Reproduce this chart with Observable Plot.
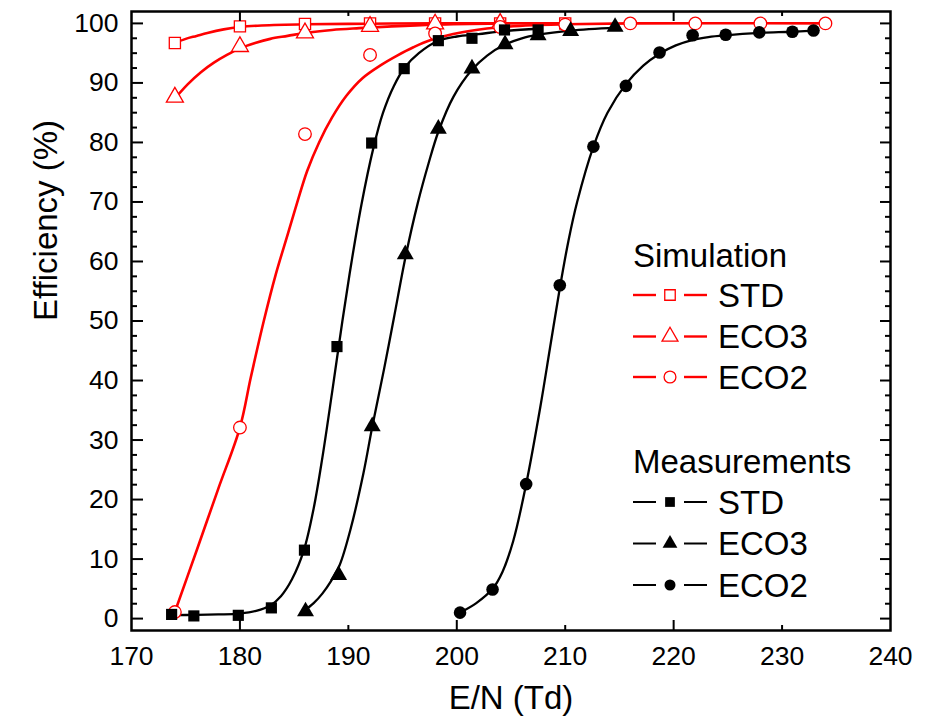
<!DOCTYPE html>
<html>
<head>
<meta charset="utf-8">
<script src="https://cdn.jsdelivr.net/npm/d3@7"></script>
<script src="https://cdn.jsdelivr.net/npm/@observablehq/plot@0.6"></script>
<style>
  body { margin: 0; background: #fff; }
  #chart svg { display: block; }
</style>
</head>
<body>
<div id="chart"></div>
<script>
// ---- Simulation (open red symbols) ----
const simStdX  = [174, 180, 186, 192, 198, 204, 210];
const simStdY  = [96.7, 99.5, 99.9, 100, 100, 100, 100];
const simEco3X = [174, 180, 186, 192, 198, 204];
const simEco3Y = [87.6, 96.1, 98.4, 99.5, 99.9, 100];
const simEco2X = [174, 180, 186, 192, 198, 204, 210, 216, 222, 228, 234];
const simEco2Y = [1.1, 32.1, 81.4, 94.7, 98.3, 99.4, 99.8, 100, 100, 100, 100];

// ---- Measurements (filled black symbols) ----
const measStdX  = [173.7, 175.75, 179.85, 182.9, 185.95, 188.95, 192.15, 195.15, 198.3, 201.4, 204.4, 207.5];
const measStdY  = [0.7, 0.45, 0.55, 1.8, 11.5, 45.7, 79.9, 92.4, 97.1, 97.5, 98.9, 98.9];
const measEco3X = [186.05, 189.1, 192.2, 195.25, 198.3, 201.4, 204.45, 207.5, 210.5, 214.6];
const measEco3Y = [1.2, 7.3, 32.3, 61.2, 82.3, 92.4, 96.5, 98.0, 98.7, 99.4];
const measEco2X = [200.3, 203.3, 206.4, 209.5, 212.6, 215.6, 218.7, 221.75, 224.8, 227.9, 230.95, 232.9];
const measEco2Y = [1.0, 4.9, 22.6, 56.0, 79.3, 89.5, 95.1, 98.0, 98.1, 98.5, 98.6, 98.8];

// ---- Fitted sigmoid curves (sampled) ----
const simStdFitX  = [174, 175, 176, 177, 178.5, 180, 182, 186, 192, 198, 210];
const simStdFitY  = [96.7, 97.4, 97.9, 98.4, 99.0, 99.4, 99.65, 99.85, 99.95, 100, 100];
const simEco3FitX = [174.1, 175.2, 176.4, 177.6, 178.8, 180, 181.4, 182.8, 184.4, 186, 188.5, 191, 194, 198, 204];
const simEco3FitY = [87.6, 89.8, 91.8, 93.4, 94.7, 95.8, 96.7, 97.4, 97.9, 98.4, 98.9, 99.2, 99.5, 99.8, 100];
const simEco2FitX = [174, 176, 178, 180, 181, 182.2, 183.3, 184.4, 185.3, 186.2, 187.3, 188.5, 189.8, 191.3, 193, 194.5, 196, 197.6, 200.5, 203.7, 207, 210, 216, 234];
const simEco2FitY = [1.1, 11.4, 21.8, 32.1, 40.5, 50, 57.8, 64.5, 70, 75.2, 80, 84.2, 87.8, 90.8, 93, 94.6, 96, 97.2, 98.5, 99.3, 99.7, 99.85, 100, 100];

const measStdFitX  = [173.7, 176, 178, 180, 181.5, 182.8, 183.8, 184.8, 185.9, 186.8, 187.6, 188.5, 189.45, 190.3, 191.2, 192.3, 193.2, 194.2, 195.2, 196.5, 198.2, 200, 202, 204.3, 207.5];
const measStdFitY  = [0.6, 0.62, 0.7, 0.85, 1.3, 2.2, 3.8, 6.6, 11.5, 18.5, 27, 38, 50, 60, 69.5, 79, 85, 89.5, 92.6, 95, 97, 97.8, 98.2, 98.7, 99.1];
const measEco3FitX = [185.9, 186.8, 187.6, 188.4, 189.2, 190.2, 191.4, 192.2, 193.3, 194.2, 195.3, 196.4, 197.4, 198.3, 199.7, 201.4, 202.8, 204.4, 206, 207.5, 210.5, 214.7];
const measEco3FitY = [1.3, 2.6, 4.2, 6.3, 9.0, 15.0, 24.5, 32.2, 42, 50.5, 61, 69.8, 76.5, 81.8, 87.7, 92.2, 94.6, 96.4, 97.5, 98.1, 98.8, 99.3];
const measEco2FitX = [200.3, 201.8, 203.3, 204.2, 205.2, 206.4, 207.7, 208.6, 209.5, 210.3, 211.1, 212.6, 213.9, 215.6, 217.2, 218.7, 220.2, 221.7, 223.2, 224.8, 228, 230.9, 232.9];
const measEco2FitY = [1.0, 2.6, 5.0, 7.8, 13, 22.6, 35.5, 45.5, 55.5, 63.5, 70, 79.3, 85, 89.8, 92.9, 94.9, 96.3, 97.2, 97.7, 98.0, 98.4, 98.6, 98.8];

// ---- Axes ----
const xTickLabels = [170, 180, 190, 200, 210, 220, 230, 240];
const xMajorTicks = [180, 200, 220];
const xMinorTicks = [190, 210, 230];
const yTickLabels = [0, 10, 20, 30, 40, 50, 60, 70, 80, 90, 100];
const yMinorTicks = d3.range(0, 100.01, 2.5).filter(v => v % 10 !== 0);

// ---- Legend ----
const legendSimLabels  = ["STD", "ECO3", "ECO2"];
const legendMeasLabels = ["STD", "ECO3", "ECO2"];

const RED = "#ff0000";
const FONT = "'Liberation Sans', Arial, Helvetica, sans-serif";
const W = 940, H = 719, mL = 131, mR = 50, mT = 11, mB = 89;
const frameW = W - mL - mR, frameH = H - mT - mB;

const rows = (xs, ys) => xs.map((x, i) => ({x, y: ys[i]}));
const fit = (xs, ys, stroke, strokeWidth) =>
  Plot.line(rows(xs, ys), {x: "x", y: "y", stroke, strokeWidth, curve: "catmull-rom"});
const openDot = (xs, ys, symbol) =>
  Plot.dot(rows(xs, ys), {x: "x", y: "y", symbol, r: 6.3, fill: "white", stroke: RED, strokeWidth: 1.3});
const solidDot = (xs, ys, symbol) =>
  Plot.dot(rows(xs, ys), {x: "x", y: "y", symbol, r: 6.3, fill: "black", stroke: "none"});

const chart = Plot.plot({
  width: W, height: H,
  marginLeft: mL, marginRight: mR, marginTop: mT, marginBottom: mB,
  style: {fontFamily: FONT, background: "white", color: "black", overflow: "visible"},
  x: {domain: [170, 240]},
  y: {domain: [-2, 102]},
  marks: [
    fit(simStdFitX, simStdFitY, RED, 2.6),
    fit(simEco3FitX, simEco3FitY, RED, 2.6),
    fit(simEco2FitX, simEco2FitY, RED, 2.6),
    fit(measStdFitX, measStdFitY, "black", 2.3),
    fit(measEco3FitX, measEco3FitY, "black", 2.3),
    fit(measEco2FitX, measEco2FitY, "black", 2.3),

    openDot(simStdX, simStdY, "square"),
    openDot(simEco3X, simEco3Y, "triangle"),
    openDot(simEco2X, simEco2Y, "circle"),
    solidDot(measStdX, measStdY, "square"),
    solidDot(measEco3X, measEco3Y, "triangle"),
    solidDot(measEco2X, measEco2Y, "circle"),

    Plot.frame({stroke: "black", strokeWidth: 2.5}),

    // inward ticks on all four sides
    Plot.tickY(yTickLabels, {y: d => d, insetRight: frameW - 12, stroke: "black", strokeWidth: 2}),
    Plot.tickY(yMinorTicks, {y: d => d, insetRight: frameW - 6, stroke: "black", strokeWidth: 2}),
    Plot.tickY(yTickLabels, {y: d => d, insetLeft: frameW - 10, stroke: "black", strokeWidth: 2}),
    Plot.tickY(yMinorTicks, {y: d => d, insetLeft: frameW - 5, stroke: "black", strokeWidth: 2}),
    Plot.tickX(xMajorTicks, {x: d => d, insetTop: frameH - 10, stroke: "black", strokeWidth: 2}),
    Plot.tickX(xMinorTicks, {x: d => d, insetTop: frameH - 5, stroke: "black", strokeWidth: 2}),
    Plot.tickX(xMajorTicks, {x: d => d, insetBottom: frameH - 10, stroke: "black", strokeWidth: 2}),
    Plot.tickX(xMinorTicks, {x: d => d, insetBottom: frameH - 5, stroke: "black", strokeWidth: 2}),

    Plot.axisX(xTickLabels, {tickSize: 0, tickPadding: 16, fontSize: 26.5, label: null}),
    Plot.axisY(yTickLabels, {tickSize: 0, tickPadding: 13, fontSize: 26.5, label: null}),

    Plot.text(["E/N (Td)"], {text: d => d, frameAnchor: "bottom", dy: 68, fontSize: 33, lineAnchor: "middle"}),
    Plot.text(["Efficiency (%)"], {text: d => d, frameAnchor: "left", rotate: -90, dx: -85, fontSize: 33, lineAnchor: "middle"})
  ]
});

document.getElementById("chart").appendChild(chart);

// Legend drawn inside the plot area
const svg = d3.select(chart);
const lg = svg.append("g")
  .attr("font-family", FONT)
  .attr("font-size", 33)
  .attr("text-anchor", "start");

function legendBlock(title, titleBaseline, labels, rowCenters, color, symbols, open) {
  lg.append("text").attr("x", 633).attr("y", titleBaseline).attr("fill", "black").text(title);
  labels.forEach((label, i) => {
    const cy = rowCenters[i];
    const sw = open ? 2.4 : 2;
    lg.append("line").attr("x1", 633).attr("x2", 656).attr("y1", cy).attr("y2", cy)
      .attr("stroke", color).attr("stroke-width", sw);
    lg.append("line").attr("x1", 684).attr("x2", 707).attr("y1", cy).attr("y2", cy)
      .attr("stroke", color).attr("stroke-width", sw);
    lg.append("path")
      .attr("d", d3.symbol(symbols[i], open ? 110 : 95)())
      .attr("transform", `translate(670,${cy})`)
      .attr("fill", open ? "white" : "black")
      .attr("stroke", open ? color : "none")
      .attr("stroke-width", 1.3);
    lg.append("text").attr("x", 718).attr("y", cy + 11.8).attr("fill", "black").text(label);
  });
}

legendBlock("Simulation", 266.5, legendSimLabels, [295, 336.5, 377], RED,
  [d3.symbolSquare, d3.symbolTriangle, d3.symbolCircle], true);
legendBlock("Measurements", 473, legendMeasLabels, [502, 543.5, 585], "black",
  [d3.symbolSquare, d3.symbolTriangle, d3.symbolCircle], false);
</script>
</body>
</html>
